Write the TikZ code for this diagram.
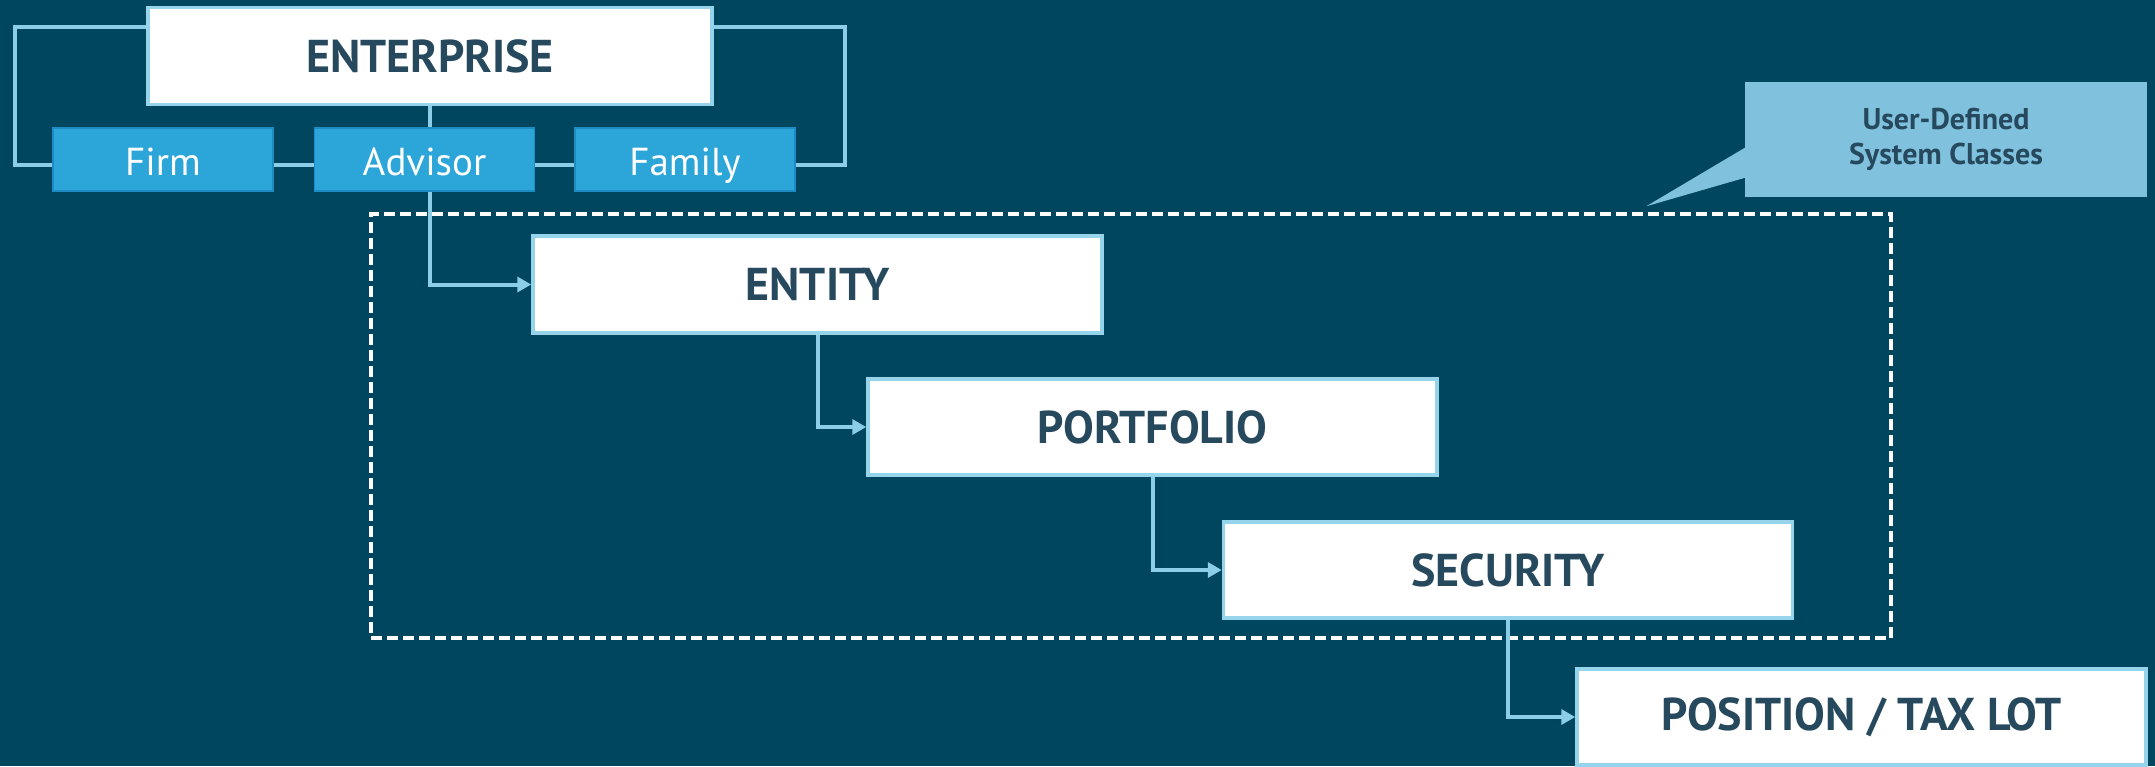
\documentclass[tikz,border=0pt]{standalone}
\usepackage{fontspec}
\setmainfont{PT Sans}
\usetikzlibrary{calc,arrows.meta}
\definecolor{bg}{RGB}{0,70,94}
\definecolor{lineblue}{RGB}{140,205,232}
\definecolor{boxedge}{RGB}{150,212,236}
\definecolor{smfill}{RGB}{44,165,216}
\definecolor{smedge}{RGB}{30,140,196}
\definecolor{callfill}{RGB}{128,194,221}
\definecolor{txt}{RGB}{38,73,94}
\begin{document}
\begin{tikzpicture}[x=1pt,y=-1pt,
 bigbox/.style={draw=boxedge, line width=3.5pt, fill=white, inner sep=0pt, minimum width=569pt, minimum height=96pt, font=\fontsize{46}{54}\selectfont\bfseries, text=txt},
 smallbox/.style={draw=smedge, line width=1.5pt, fill=smfill, inner sep=0pt, minimum width=220pt, minimum height=63pt, text height=34pt, text depth=2pt, font=\fontsize{39}{46}\selectfont, text=white},
 conn/.style={draw=lineblue, line width=4pt},
 arr/.style={conn, -{Triangle[length=14pt,width=15pt]}},
 grpbox/.style={draw=white, line width=3.5pt, dash pattern=on 11pt off 5pt, inner sep=0pt, minimum width=1520pt, minimum height=424pt},
 callbox/.style={fill=callfill, inner sep=0pt, minimum width=402pt, minimum height=115pt, align=center, font=\fontsize{30}{35}\selectfont\bfseries, text=txt},
]
\useasboundingbox[fill=bg] (0,0) rectangle (2155,766);

% group box
\node[grpbox] (grp) at (1131,426) {};

% callout
\node[callbox] (udc) at (1946,139.5) {User-Defined\\System Classes};
\fill[callfill] ($(udc.north west)+(0,66)$) -- ($(grp.north west)+(1277,-6)$) -- ($(udc.north west)+(0,96)$) -- cycle;

% nodes
\node[bigbox, minimum width=564pt, minimum height=97pt] (ent) at (430,56) {ENTERPRISE};
\node[smallbox] (firm) at (163,159.5) {Firm};
\node[smallbox] (adv) at (424.5,159.5) {Advisor};
\node[smallbox] (fam) at (685,159.5) {Family};
\node[bigbox, minimum height=97pt] (entity) at (817.5,284.5) {ENTITY};
\node[bigbox] (port) at (1152.5,427) {PORTFOLIO};
\node[bigbox] (sec) at (1508,570) {SECURITY};
\node[bigbox] (pos) at (1861.5,717) {POSITION / TAX LOT};

% connectors
\draw[conn] ($(ent.north west)+(0,21)$) -| ($(firm.west)+(-37,5.5)$) -- ($(firm.west)+(0,5.5)$);
\draw[conn] ($(ent.north east)+(0,21)$) -| ($(fam.east)+(49,5.5)$) -- ($(fam.east)+(0,5.5)$);
\draw[conn] ($(firm.east)+(0,5.5)$) -- ($(adv.west)+(0,5.5)$);
\draw[conn] ($(adv.east)+(0,5.5)$) -- ($(fam.west)+(0,5.5)$);
\draw[conn] (ent.south) -- (ent.south |- adv.north);
\draw[arr] (ent.south |- adv.south) |- (entity.west);
\draw[arr] (entity.south) |- (port.west);
\draw[arr] (port.south) |- (sec.west);
\draw[arr] (sec.south) |- (pos.west);
\end{tikzpicture}
\end{document}
